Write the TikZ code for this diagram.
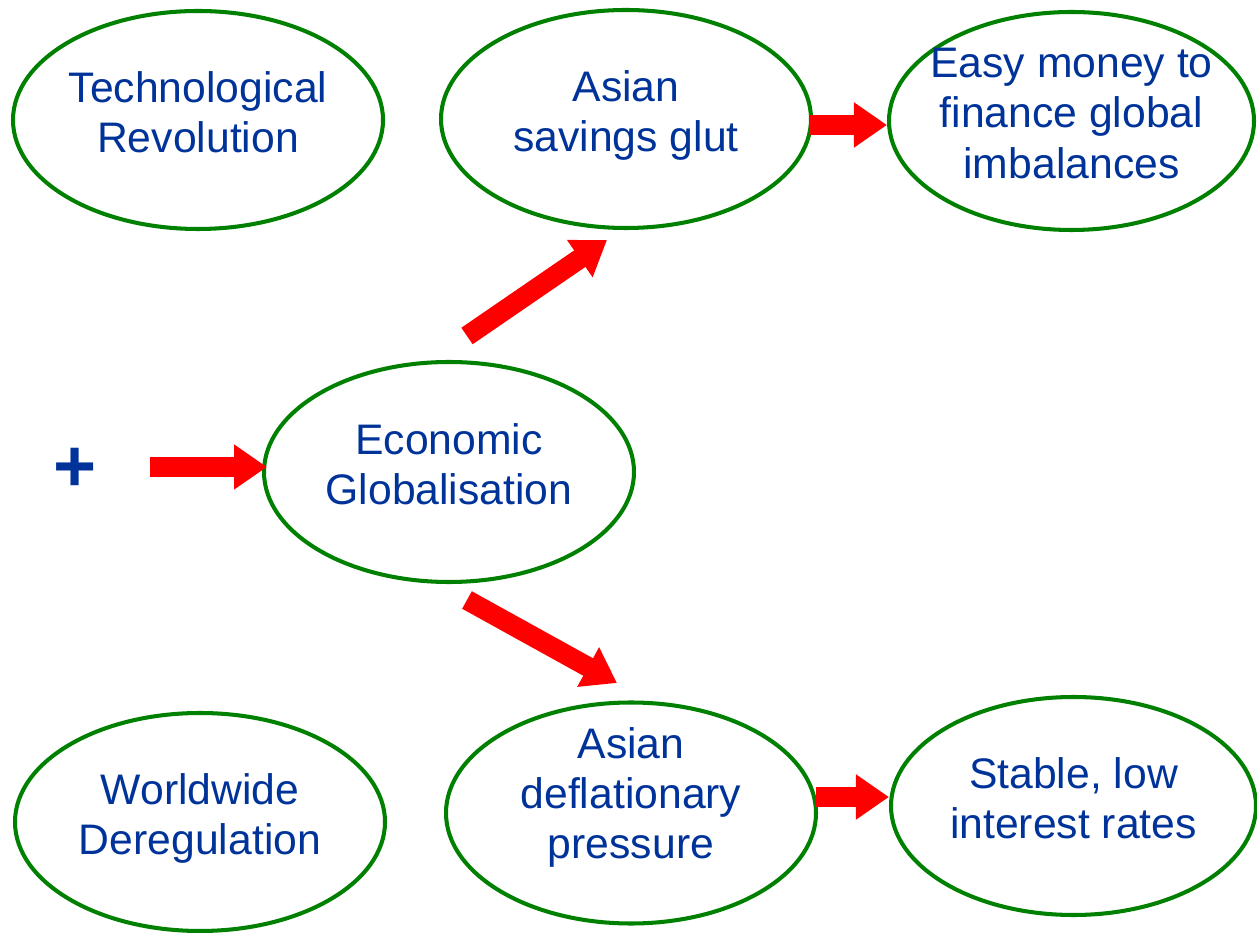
\documentclass[tikz,border=0pt]{standalone}
\usepackage{fontspec}
\setmainfont{Liberation Sans}
\usetikzlibrary{shapes, arrows.meta, positioning}
\definecolor{txtblue}{RGB}{0,51,153}
\definecolor{ringgreen}{RGB}{0,128,0}
\tikzstyle{bubble}=[shape=ellipse, draw=ringgreen, line width=2.3pt, fill=white, minimum width=7.4cm, minimum height=4.36cm, inner sep=-0.25cm, text depth=0.31cm, align=center, text=txtblue, font=\fontsize{24.3}{28.5}\selectfont]
\tikzstyle{fatarrow}=[draw=red, line width=0.4cm, -{Triangle[length=0.66cm, width=0.86cm]}, red]
\begin{document}
\begin{tikzpicture}

\useasboundingbox (0,0) rectangle (25.14,-18.66);
\node[bubble] (tech) at (3.96,-2.40) {Technological\\Revolution};
\node[bubble] (asg) at (12.52,-2.38) {Asian\\savings glut};
\node[bubble, minimum width=7.3cm] (easy) at (21.43,-2.42) {Easy money to\\finance global\\imbalances};
\node[bubble, minimum height=4.4cm] (glob) at (8.98,-9.44) {Economic\\Globalisation};
\node[bubble] (dereg) at (4.0,-16.44) {Worldwide\\Deregulation};
\node[bubble, minimum height=4.42cm, text depth=0.8cm] (defl) at (12.62,-16.26) {Asian\\deflationary\\pressure};
\node[bubble, minimum width=7.3cm] (stab) at (21.47,-16.12) {Stable, low\\interest rates};
\node[text=txtblue, font=\fontsize{42}{42}\selectfont\bfseries] (plus) at (1.5,-9.40) {+};

\coordinate (p1) at (3.0,-9.34);\coordinate (q1) at (5.34,-9.34);
\coordinate (p2) at (9.34,-6.72);\coordinate (q2) at (12.14,-4.80);
\coordinate (p3) at (9.34,-12.0);\coordinate (q3) at (12.34,-13.66);
\draw[fatarrow] (p1) -- (q1);
\draw[fatarrow] (p2) -- (q2);
\draw[fatarrow] (p3) -- (q3);
\draw[fatarrow, shorten <=-2pt] (asg.east |- 0,-2.5) -- (easy.west |- 0,-2.5);
\draw[fatarrow, shorten <=-1pt] (defl.east |- 0,-15.94) -- (stab.west |- 0,-15.94);
\end{tikzpicture}
\end{document}
